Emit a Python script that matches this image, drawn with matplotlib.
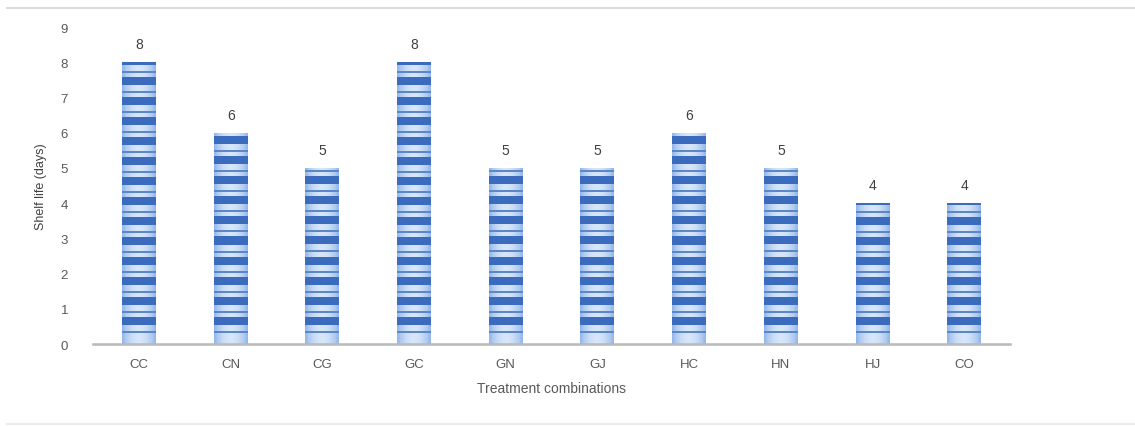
import numpy as np
import matplotlib
matplotlib.use("Agg")
import matplotlib.pyplot as plt
from matplotlib.lines import Line2D

categories = ["CC", "CN", "CG", "GC", "GN", "GJ", "HC", "HN", "HJ", "CO"]
shelf_life = [8, 6, 5, 8, 5, 5, 6, 5, 4, 4]
y_ticks = [0, 1, 2, 3, 4, 5, 6, 7, 8, 9]

plt.rcParams["font.family"] = ["Liberation Sans", "DejaVu Sans"]

fig = plt.figure(figsize=(11.35, 4.27), dpi=100)
ax = fig.add_axes([0.082, 0.192, 0.808, 0.742])

x = np.arange(len(categories))
bars = ax.bar(x, shelf_life, width=0.37, color="#b3cdef", edgecolor="none", zorder=2)

ax.set_xlim(-0.5, len(categories) - 0.5)
ax.set_ylim(0, 9)

# striped fill: a horizontal band pattern (period in pixels) with a soft
# horizontal gradient, clipped to each bar
px_per_unit = 0.742 * 427 / 9.0
period = 20.0
dark = np.array([0.23, 0.42, 0.74])
thin = np.array([0.36, 0.53, 0.78])

def texture(height, ncols=40):
    nrows = max(int(round(height * px_per_unit)), 2)
    img = np.zeros((nrows, ncols, 3))
    xs = np.linspace(-1, 1, ncols)
    edge = np.array([0.58, 0.72, 0.91])
    centre = np.array([0.84, 0.90, 0.98])
    light_row = centre[None, :] * (1 - xs[:, None] ** 2) + edge[None, :] * xs[:, None] ** 2
    for r in range(nrows):
        yp = nrows - 1 - r  # pixel distance from the baseline
        ph = (yp - 7) % period
        if yp < 7:
            img[r] = light_row
        elif ph >= 12:
            img[r] = dark
        elif 4 <= ph < 6:
            img[r] = thin
        else:
            img[r] = light_row
    return img

for b in bars:
    x0, w, h = b.get_x(), b.get_width(), b.get_height()
    im = ax.imshow(texture(h), extent=(x0, x0 + w, 0, h), aspect="auto",
                   interpolation="nearest", zorder=3)
    im.set_clip_path(b)

for xi, v in zip(x, shelf_life):
    ax.text(xi, v + 0.32, f"{v}", ha="center", va="bottom",
            fontsize=10, color="#404040", zorder=4)

ax.set_xticks(x)
ax.set_xticklabels(categories)
ax.set_yticks(y_ticks)
ax.tick_params(axis="both", length=0, labelsize=9.5, labelcolor="#595959")
ax.tick_params(axis="x", pad=10)
ax.tick_params(axis="y", pad=18)

for s in ["top", "right", "left"]:
    ax.spines[s].set_visible(False)
ax.spines["bottom"].set_color("#b8b8b8")
ax.spines["bottom"].set_linewidth(1.8)
ax.spines["bottom"].set_zorder(5)

ax.set_ylabel("Shelf life (days)", fontsize=9, color="#404040", labelpad=10)
ax.set_xlabel("Treatment combinations", fontsize=10, color="#595959", labelpad=8)

# light frame lines above and below the plot
fig.add_artist(Line2D([0.006, 1.0], [0.979, 0.979], transform=fig.transFigure,
                      color="#dcdcdc", linewidth=1.5))
fig.add_artist(Line2D([0.006, 1.0], [0.005, 0.005], transform=fig.transFigure,
                      color="#ececec", linewidth=1.5))

fig.savefig("out.png", dpi=100, facecolor="white")
